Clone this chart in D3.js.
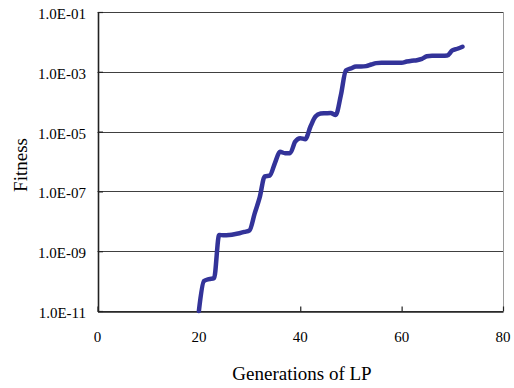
<!DOCTYPE html>
<html>
<head>
<meta charset="utf-8">
<script src="https://cdn.jsdelivr.net/npm/d3@7"></script>
<style>
  body { margin: 0; background: #fff; }
  svg { display: block; }
  .tick-label { font-family: "Liberation Serif", "Times New Roman", serif; font-size: 15px; fill: #000; }
  .axis-title { font-family: "Liberation Serif", "Times New Roman", serif; font-size: 19px; fill: #000; }
</style>
</head>
<body>
<div id="chart"></div>
<script>
// generations of LP and best fitness
const generations = [20, 21, 22, 23, 24, 25, 26, 27, 28, 29, 30, 31, 32, 33, 34, 35, 36, 37, 38, 39,
  40, 41, 42, 43, 44, 45, 46, 47, 48, 49, 50, 51, 52, 53, 54, 55, 56, 57, 58, 59,
  60, 61, 62, 63, 64, 65, 66, 67, 68, 69, 70, 71, 72];
const fitness = [1.0e-11, 1.0e-10, 1.17e-10, 1.26e-10, 3.5e-9, 3.4e-9, 3.5e-9, 3.7e-9, 4.0e-9, 4.4e-9,
  5.0e-9, 1.8e-8, 6.3e-8, 3.2e-7, 3.4e-7, 8.9e-7, 2.1e-6, 1.9e-6, 1.9e-6, 4.6e-6,
  6.0e-6, 5.6e-6, 1.45e-5, 3.2e-5, 4.0e-5, 4.1e-5, 4.2e-5, 3.6e-5, 1.6e-4, 1.1e-3,
  1.3e-3, 1.5e-3, 1.5e-3, 1.55e-3, 1.75e-3, 1.95e-3, 2.0e-3, 2.0e-3, 2.0e-3, 2.0e-3,
  2.0e-3, 2.2e-3, 2.35e-3, 2.45e-3, 2.7e-3, 3.3e-3, 3.45e-3, 3.45e-3, 3.45e-3, 3.5e-3,
  5.2e-3, 5.9e-3, 6.9e-3];
const xTicks = [0, 20, 40, 60, 80];
const yTicks = [1e-11, 1e-9, 1e-7, 1e-5, 1e-3, 1e-1];
const yTickLabels = ['1.0E-11', '1.0E-09', '1.0E-07', '1.0E-05', '1.0E-03', '1.0E-01'];

const W = 514, H = 388;
const plot = { left: 97.5, right: 503, top: 12, bottom: 311 };

const svg = d3.select('#chart').append('svg')
  .attr('width', W)
  .attr('height', H);

const x = d3.scaleLinear().domain([0, 80]).range([plot.left, plot.right]);
const y = d3.scaleLog().domain([1e-11, 1e-1]).range([plot.bottom, plot.top]);

// horizontal gridlines
svg.append('g')
  .selectAll('line')
  .data(yTicks)
  .enter()
  .append('line')
  .attr('x1', plot.left).attr('x2', plot.right)
  .attr('y1', d => Math.round(y(d)) + 0.5)
  .attr('y2', d => Math.round(y(d)) + 0.5)
  .attr('stroke', '#404040')
  .attr('stroke-width', 1.2);

// right border of plot area
svg.append('line')
  .attr('x1', plot.right + 0.5).attr('x2', plot.right + 0.5)
  .attr('y1', plot.top).attr('y2', plot.bottom)
  .attr('stroke', '#9a9a9a');

// bottom axis: ticks pointing inside
const xAxis = svg.append('g')
  .attr('transform', `translate(0,${Math.round(plot.bottom) + 0.5})`)
  .call(d3.axisBottom(x).tickValues(xTicks).tickSizeInner(-5).tickSizeOuter(0).tickFormat(''));
xAxis.select('.domain').attr('stroke', '#222').attr('stroke-width', 1.6);
xAxis.selectAll('.tick line').attr('stroke', '#222').attr('stroke-width', 1.2);

// left axis
const yAxis = svg.append('g')
  .attr('transform', `translate(${Math.round(plot.left)},0)`)
  .call(d3.axisLeft(y).tickValues(yTicks).tickSizeInner(-5).tickSizeOuter(0).tickFormat(''));
yAxis.select('.domain').attr('stroke', '#222').attr('stroke-width', 1.6);
yAxis.selectAll('.tick line').attr('stroke', '#222').attr('stroke-width', 1.2);

// tick labels
svg.append('g')
  .selectAll('text')
  .data(yTicks)
  .enter()
  .append('text')
  .attr('class', 'tick-label')
  .attr('x', 86)
  .attr('y', d => y(d) + 7)
  .attr('text-anchor', 'end')
  .text((d, i) => yTickLabels[i]);

svg.append('g')
  .selectAll('text')
  .data(xTicks)
  .enter()
  .append('text')
  .attr('class', 'tick-label')
  .attr('x', d => x(d))
  .attr('y', 342)
  .attr('text-anchor', 'middle')
  .text(d => d);

// axis titles
svg.append('text')
  .attr('class', 'axis-title')
  .attr('x', 302)
  .attr('y', 380)
  .attr('text-anchor', 'middle')
  .text('Generations of LP');

svg.append('text')
  .attr('class', 'axis-title')
  .attr('transform', 'translate(27,165) rotate(-90)')
  .attr('text-anchor', 'middle')
  .text('Fitness');

// fitness line
const pts = generations.map((g, i) => [g, fitness[i]]);
const line = d3.line()
  .x(d => x(d[0]))
  .y(d => y(d[1]))
  .curve(d3.curveMonotoneX);

svg.append('path')
  .datum(pts)
  .attr('d', line)
  .attr('fill', 'none')
  .attr('stroke', '#333399')
  .attr('stroke-width', 4.5)
  .attr('stroke-linejoin', 'round')
  .attr('stroke-linecap', 'round');
</script>
</body>
</html>
